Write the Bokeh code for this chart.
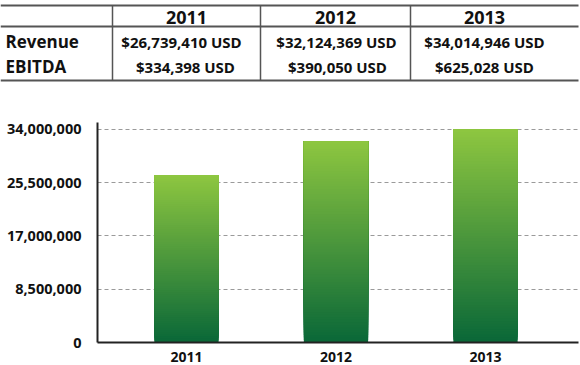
from bokeh.plotting import figure
from bokeh.layouts import column
from bokeh.models import Range1d, FixedTicker, NumeralTickFormatter
from bokeh.core.properties import value
from bokeh.embed import file_html
from bokeh.resources import INLINE

# ---- data ----
years = ["2011", "2012", "2013"]
revenue = [26739410, 32124369, 34014946]
revenue_labels = ["$26,739,410 USD", "$32,124,369 USD", "$34,014,946 USD"]
ebitda_labels = ["$334,398 USD", "$390,050 USD", "$625,028 USD"]
row_labels = ["Revenue", "EBITDA"]
y_ticks = [0, 8500000, 17000000, 25500000, 34000000]

FONT = value("Open Sans")
W = 580
TABLE_H = 95
LINE_C = "#555555"
TXT_C = "#111111"

# ---- table figure (pixel-like layout space) ----
t = figure(width=W, height=TABLE_H, x_range=Range1d(0, W), y_range=Range1d(TABLE_H, 0),
           output_backend="svg", toolbar_location=None, min_border=0)
t.axis.visible = False
t.grid.visible = False
t.outline_line_color = None

col_centers = [186, 335, 484]
sep_x = [112, 260, 410]
t.segment(x0=[0, 0, 0], y0=[5, 26, 80], x1=[578, 578, 578], y1=[5, 26, 80],
          line_color=LINE_C, line_width=2)
t.segment(x0=sep_x, y0=[5] * 3, x1=sep_x, y1=[80] * 3, line_color=LINE_C, line_width=1.5)

t.text(x=col_centers, y=[16.5] * 3, text=years, text_align="center", text_baseline="middle",
       text_font=FONT, text_font_style="bold", text_font_size="18px", text_color=TXT_C)
t.text(x=[5, 5], y=[40.5, 66], text=row_labels, text_align="left", text_baseline="middle",
       text_font=FONT, text_font_style="bold", text_font_size="17px", text_color=TXT_C)
t.text(x=[181, 336, 484], y=[41] * 3, text=revenue_labels, text_align="center",
       text_baseline="middle", text_font=FONT, text_font_style="bold",
       text_font_size="15px", text_color=TXT_C)
t.text(x=[185, 337, 484], y=[66] * 3, text=ebitda_labels, text_align="center",
       text_baseline="middle", text_font=FONT, text_font_style="bold",
       text_font_size="15px", text_color=TXT_C)

# ---- bar chart ----
xs = [i + 1 for i in range(len(years))]
p = figure(frame_width=481, frame_height=220,
           x_range=Range1d(0.405, 3.622), y_range=Range1d(0, 35100000),
           output_backend="svg", toolbar_location=None,
           min_border_left=97, min_border_right=2, min_border_top=27, min_border_bottom=23)
p.outline_line_color = None
p.xgrid.visible = False
p.ygrid.ticker = FixedTicker(ticks=y_ticks[1:])
p.ygrid.grid_line_color = "#9a9a9a"
p.ygrid.grid_line_dash = "4 3"
p.ygrid.grid_line_width = 1

# gradient bars: layered slices, each from its own base up to the bar top
N = 80
top_rgb = (0x8d, 0xc6, 0x40)
bot_rgb = (0x0a, 0x68, 0x38)
bx, bb, bt, bc = [], [], [], []
for x, v in zip(xs, revenue):
    for i in range(N):
        f = i / (N - 1)
        r = round(bot_rgb[0] + (top_rgb[0] - bot_rgb[0]) * f)
        g = round(bot_rgb[1] + (top_rgb[1] - bot_rgb[1]) * f)
        b = round(bot_rgb[2] + (top_rgb[2] - bot_rgb[2]) * f)
        bx.append(x)
        bb.append(v * i / N)
        bt.append(v)
        bc.append("#%02x%02x%02x" % (r, g, b))
p.vbar(x=bx, bottom=bb, top=bt, width=0.43, fill_color=bc, line_color=None)

p.yaxis.ticker = FixedTicker(ticks=y_ticks)
p.yaxis.formatter = NumeralTickFormatter(format="0,0")
p.yaxis.major_tick_line_color = None
p.yaxis.minor_tick_line_color = None
p.yaxis.axis_line_width = 2
p.yaxis.axis_line_color = "#222222"
p.yaxis.major_label_standoff = 10
p.yaxis.major_label_text_font = "Open Sans"
p.yaxis.major_label_text_font_style = "bold"
p.yaxis.major_label_text_font_size = "14.5px"
p.yaxis.major_label_text_color = TXT_C

p.xaxis.ticker = FixedTicker(ticks=xs)
p.xaxis.major_label_overrides = {x: y for x, y in zip(xs, years)}
p.xaxis.major_tick_line_color = None
p.xaxis.minor_tick_line_color = None
p.xaxis.axis_line_width = 2
p.xaxis.axis_line_color = "#222222"
p.xaxis.major_label_standoff = 3
p.xaxis.major_label_text_font = "Open Sans"
p.xaxis.major_label_text_font_style = "bold"
p.xaxis.major_label_text_font_size = "14px"
p.xaxis.major_label_text_color = TXT_C

layout = column(column(t), column(p), spacing=0)
open("out.html", "w").write(file_html(layout, INLINE))
